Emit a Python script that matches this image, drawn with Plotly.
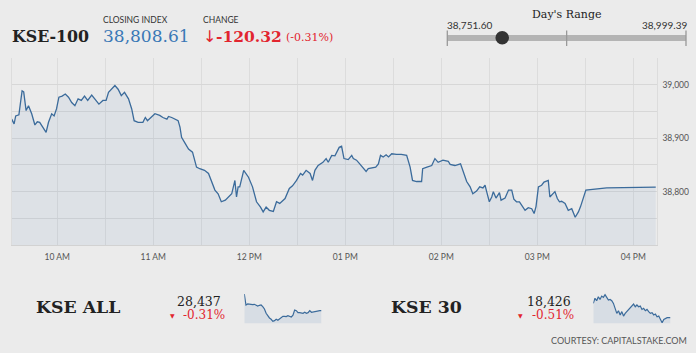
import plotly.graph_objects as go

DAY = "2019-01-01 "

kse100_times = [
    "09:31:30", "09:33:00", "09:34:00", "09:36:00", "09:37:00", "09:38:00", "09:39:00", "09:40:30", "09:42:00", "09:44:00",
    "09:46:00", "09:47:30", "09:49:00", "09:51:00", "09:53:00", "09:54:30", "09:56:30", "09:58:00", "09:59:30", "10:01:00",
    "10:03:00", "10:05:00", "10:07:00", "10:09:00", "10:11:00", "10:13:00", "10:15:00", "10:17:00", "10:19:00", "10:21:30",
    "10:23:30", "10:26:00", "10:28:30", "10:30:30", "10:32:00", "10:34:00", "10:36:00", "10:38:00", "10:40:00", "10:42:00",
    "10:44:30", "10:46:30", "10:48:00", "10:50:30", "10:53:30", "10:55:00", "10:56:20", "10:58:30", "11:01:00", "11:04:00",
    "11:06:00", "11:08:30", "11:09:30", "11:11:30", "11:13:30", "11:15:30", "11:16:40", "11:17:40", "11:20:00", "11:22:00",
    "11:24:30", "11:27:00", "11:29:00", "11:32:00", "11:34:30", "11:36:30", "11:38:30", "11:40:30", "11:42:30", "11:45:00",
    "11:47:00", "11:49:00", "11:51:00", "11:52:00", "11:53:00", "11:54:00", "11:56:30", "11:59:30", "12:02:00", "12:04:30",
    "12:07:00", "12:08:40", "12:10:30", "12:12:30", "12:15:00", "12:17:00", "12:19:00", "12:20:50", "12:22:20", "12:25:00",
    "12:27:00", "12:29:30", "12:32:00", "12:33:20", "12:35:30", "12:38:00", "12:39:30", "12:41:00", "12:43:00", "12:46:00",
    "12:48:00", "12:49:20", "12:51:30", "12:53:30", "12:54:40", "12:56:10", "12:57:40", "12:59:10", "13:01:50", "13:04:00",
    "13:05:00", "13:07:00", "13:09:00", "13:11:00", "13:13:00", "13:14:20", "13:16:30", "13:19:00", "13:20:40", "13:22:00",
    "13:23:40", "13:25:30", "13:27:00", "13:29:00", "13:32:00", "13:35:00", "13:38:20", "13:40:30", "13:42:00", "13:44:30",
    "13:47:40", "13:48:20", "13:51:00", "13:54:00", "13:56:00", "13:58:00", "14:01:00", "14:04:20", "14:05:30", "14:08:30",
    "14:12:00", "14:13:40", "14:15:50", "14:18:00", "14:19:40", "14:22:00", "14:24:00", "14:26:00", "14:27:20", "14:28:20",
    "14:30:00", "14:31:30", "14:32:30", "14:34:10", "14:36:20", "14:37:20", "14:39:50", "14:42:00", "14:44:00", "14:45:20",
    "14:47:00", "14:48:50", "14:50:10", "14:52:20", "14:54:20", "14:56:30", "14:58:00", "14:59:10", "15:00:40", "15:02:40",
    "15:04:10", "15:05:20", "15:06:50", "15:07:50", "15:09:40", "15:11:00", "15:12:30", "15:13:50", "15:15:10", "15:17:20",
    "15:19:20", "15:21:30", "15:23:40", "15:25:40", "15:27:00", "15:28:50", "15:30:20", "15:43:20", "16:14:00",
]
kse100_values = [
    38936, 38927, 38942, 38944, 38967, 38989, 38987, 38952, 38961, 38946,
    38925, 38931, 38930, 38921, 38911, 38930, 38946, 38942, 38955, 38977,
    38979, 38983, 38977, 38967, 38961, 38974, 38971, 38979, 38971, 38981,
    38974, 38964, 38971, 38971, 38986, 38992, 38999, 38992, 38980, 38986,
    38974, 38955, 38933, 38930, 38930, 38939, 38933, 38939, 38946, 38943,
    38939, 38936, 38941, 38939, 38936, 38933, 38921, 38902, 38890, 38880,
    38874, 38846, 38843, 38840, 38834, 38818, 38803, 38796, 38781, 38784,
    38790, 38796, 38821, 38790, 38809, 38809, 38840, 38827, 38809, 38781,
    38771, 38762, 38771, 38765, 38763, 38781, 38778, 38784, 38787, 38806,
    38811, 38821, 38834, 38831, 38840, 38834, 38821, 38840, 38849, 38855,
    38862, 38855, 38868, 38867, 38874, 38883, 38885, 38862, 38860, 38868,
    38862, 38859, 38852, 38846, 38838, 38843, 38844, 38846, 38852, 38868,
    38865, 38869, 38865, 38871, 38870, 38870, 38868, 38846, 38821, 38819,
    38819, 38843, 38846, 38849, 38862, 38855, 38859, 38857, 38851, 38849,
    38852, 38837, 38819, 38809, 38796, 38801, 38809, 38807, 38812, 38800,
    38781, 38790, 38800, 38788, 38798, 38784, 38788, 38803, 38803, 38786,
    38781, 38781, 38775, 38765, 38770, 38768, 38759, 38772, 38809, 38812,
    38818, 38819, 38821, 38790, 38796, 38800, 38787, 38781, 38782, 38778,
    38765, 38768, 38752, 38762, 38772, 38787, 38803, 38807, 38808.61,
]
assert len(kse100_times) == len(kse100_values)

kse_all_values = [
    28537, 28471, 28477, 28475, 28471, 28473, 28475, 28471, 28465, 28469,
    28471, 28461, 28447, 28421, 28405, 28393, 28385, 28373, 28377, 28385,
    28379, 28387, 28397, 28403, 28403, 28401, 28407, 28405, 28399, 28409,
    28441, 28437, 28425, 28425, 28421, 28421, 28427, 28421, 28425, 28437,
    28427, 28429, 28433, 28437, 28437, 28437, 28437,
]
kse30_values = [
    18490, 18513, 18502, 18520, 18508, 18523, 18517, 18529, 18517, 18505,
    18508, 18502, 18490, 18468, 18445, 18457, 18438, 18453, 18433, 18445,
    18453, 18463, 18468, 18478, 18487, 18475, 18483, 18475, 18478, 18463,
    18468, 18457, 18463, 18453, 18445, 18448, 18438, 18442, 18430, 18433,
    18418, 18403, 18418, 18422, 18426, 18426, 18426,
]

y_ticks = [38700, 38750, 38800, 38850, 38900, 38950, 39000, 39050]
y_labels = ["", "", "38,800", "", "38,900", "", "39,000", ""]
x_ticks = ["10:00", "10:30", "11:00", "11:30", "12:00", "12:30", "13:00",
           "13:30", "14:00", "14:30", "15:00", "15:30", "16:00"]
x_labels = ["10 AM", "", "11 AM", "", "12 PM", "", "01 PM", "", "02 PM", "",
            "03 PM", "", "04 PM"]

closing = 38808.61
change = -120.32
change_pct = -0.31
day_low = 38751.60
day_high = 38999.39
kse_all_close = 28437
kse_all_pct = -0.31
kse30_close = 18426
kse30_pct = -0.51

W, H = 696, 353
BG = "#ebebeb"
RED = "#e2252f"
BLUE_LINE = "#3b6b9b"
SERIF = "DejaVu Serif"
SANS = "Lato"


def X(p):
    return p / W


def Y(p):
    return 1 - p / H


fig = go.Figure()
fig.add_trace(go.Scatter(
    x=[DAY + t for t in kse100_times], y=kse100_values, mode="lines",
    line=dict(color=BLUE_LINE, width=1.3), fill="tozeroy",
    fillcolor="rgba(70,120,180,0.08)", hoverinfo="skip"))
fig.add_trace(go.Scatter(
    x=list(range(len(kse_all_values))), y=kse_all_values, mode="lines",
    line=dict(color=BLUE_LINE, width=1.2), fill="tozeroy",
    fillcolor="rgba(70,120,180,0.12)", xaxis="x2", yaxis="y2", hoverinfo="skip"))
fig.add_trace(go.Scatter(
    x=list(range(len(kse30_values))), y=kse30_values, mode="lines",
    line=dict(color=BLUE_LINE, width=1.2), fill="tozeroy",
    fillcolor="rgba(70,120,180,0.12)", xaxis="x3", yaxis="y3", hoverinfo="skip"))

annotations = []


def txt(text, x, y, size, color="#222", family=SANS, xanchor="left"):
    annotations.append(dict(text=text, x=X(x), y=Y(y), xref="paper", yref="paper",
                            xanchor=xanchor, yanchor="middle", showarrow=False,
                            font=dict(family=family, size=size, color=color)))


txt("<b>KSE-100</b>", 10, 36, 15.8, "#222", SERIF)
txt("CLOSING INDEX", 101, 19.5, 8.5, "#333")
txt(f"{closing:,.2f}", 101, 36, 17, "#3a78b6", SERIF)
txt("CHANGE", 201.5, 19.5, 8.5, "#333")
txt("↓", 200.5, 36, 16, RED, "DejaVu Sans")
txt(f"<b>{change:,.2f}</b>", 213.5, 36, 15.5, RED, SERIF)
txt(f"({change_pct:.2f}%)", 284, 37.5, 11, RED, SERIF)

txt("Day's Range", 567, 15, 11, "#222", SERIF, "center")
txt(f"{day_low:,.2f}", 445, 25, 10, "#333")
txt(f"{day_high:,.2f}", 688.5, 25, 10, "#333", SANS, "right")

txt("<b>KSE ALL</b>", 34, 307, 17.3, "#222", SERIF)
txt(f"{kse_all_close:,}", 223, 301, 12.5, "#222", SERIF, "right")
txt("▼", 172, 315, 6, RED, "DejaVu Sans", "center")
txt(f"{kse_all_pct:.2f}%", 226.5, 315, 12, RED, SERIF, "right")

txt("<b>KSE 30</b>", 388.5, 307, 17.3, "#222", SERIF)
txt(f"{kse30_close:,}", 572.5, 301, 12.5, "#222", SERIF, "right")
txt("▼", 520.5, 315, 6, RED, "DejaVu Sans", "center")
txt(f"{kse30_pct:.2f}%", 575.5, 315, 12, RED, SERIF, "right")

txt("COURTESY: CAPITALSTAKE.COM", 689, 340, 9, "#555", SANS, "right")

# Day's range slider
bar_l, bar_r = 447.3, 686.0
frac = (closing - day_low) / (day_high - day_low)
dot_x = bar_l + frac * (bar_r - bar_l)
shapes = [
    dict(type="rect", xref="paper", yref="paper", x0=X(bar_l), x1=X(bar_r),
         y0=Y(41), y1=Y(35), fillcolor="#b4b4b4", line=dict(width=0), layer="above"),
]
for tx in (bar_l, (bar_l + bar_r) / 2, bar_r):
    shapes.append(dict(type="line", xref="paper", yref="paper", x0=X(tx), x1=X(tx),
                       y0=Y(46), y1=Y(30.5), line=dict(color="#999", width=1.3)))
r = 6.8
shapes.append(dict(type="circle", xref="paper", yref="paper",
                   x0=X(dot_x - r), x1=X(dot_x + r), y0=Y(37.8 + r), y1=Y(37.8 - r),
                   fillcolor="#333", line=dict(width=0)))

fig.update_layout(
    width=W, height=H, margin=dict(l=0, r=0, t=0, b=0),
    paper_bgcolor=BG, plot_bgcolor=BG, showlegend=False,
    annotations=annotations, shapes=shapes,
    xaxis=dict(domain=[X(11.7), X(656.7)], type="date",
               range=[DAY + "09:31:30", DAY + "16:14:36"],
               tickvals=[DAY + t for t in x_ticks], ticktext=x_labels,
               showgrid=True, gridcolor="#dcdcdc", gridwidth=1,
               showline=True, linecolor="#d2d2d2", linewidth=1,
               ticks="outside", ticklen=4, tickcolor="rgba(0,0,0,0)",
               tickfont=dict(family=SANS, size=8.5, color="#555"),
               zeroline=False, fixedrange=True),
    yaxis=dict(domain=[Y(245), Y(58)], range=[38700, 39050.5], side="right",
               tickvals=y_ticks, ticktext=y_labels,
               showgrid=True, gridcolor="#d7d7d7", gridwidth=1,
               showline=True, mirror=True, linecolor="#dcdcdc",
               ticks="outside", ticklen=3, tickcolor="rgba(0,0,0,0)",
               tickfont=dict(family=SANS, size=8.5, color="#555"),
               zeroline=False, fixedrange=True),
    xaxis2=dict(domain=[X(244.3), X(321.5)], range=[0, len(kse_all_values) - 1],
                visible=False, fixedrange=True),
    yaxis2=dict(domain=[Y(323.3), Y(293.3)], range=[28361, 28541],
                visible=False, fixedrange=True),
    xaxis3=dict(domain=[X(593.3), X(670.5)], range=[0, len(kse30_values) - 1],
                visible=False, fixedrange=True),
    yaxis3=dict(domain=[Y(323.3), Y(293.3)], range=[18400.5, 18535.5],
                visible=False, fixedrange=True),
)

fig.write_html("out.html", config={"displayModeBar": False})
